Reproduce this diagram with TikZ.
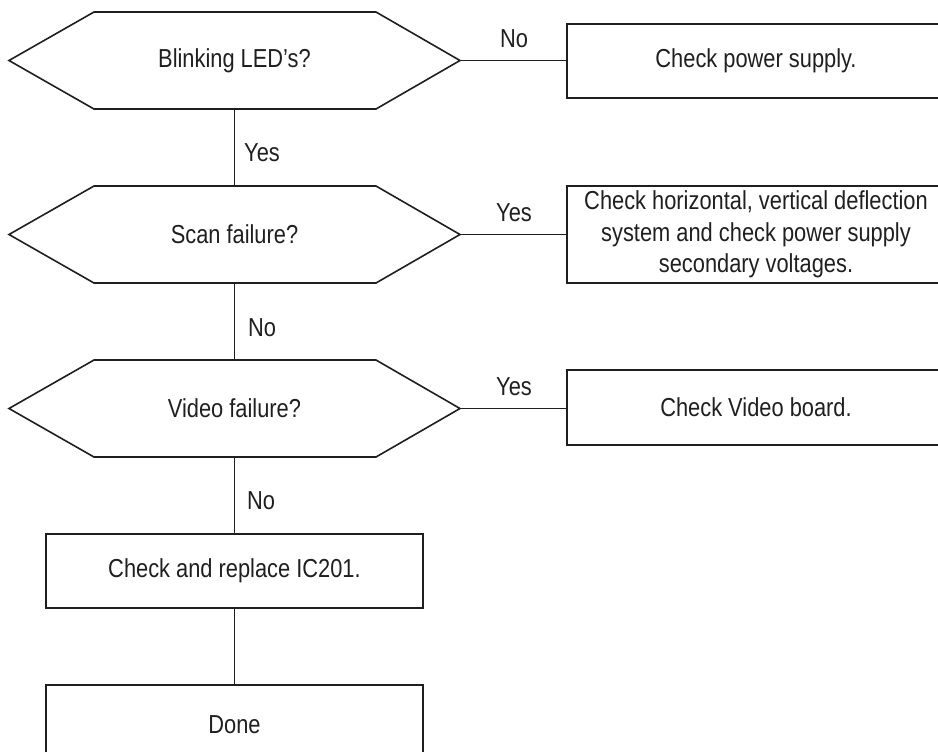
\documentclass[tikz,border=0pt]{standalone}
\usepackage{fontspec}
\setmainfont{Liberation Sans}[FakeStretch=0.84]
\begin{document}
\begin{tikzpicture}[x=0.5pt,y=-0.5pt,
  txt/.style={font=\fontsize{13}{15.75}\selectfont, text=black!88, inner sep=0pt, align=center},
  ln/.style={draw=black!88, line width=0.8pt},
  box/.style={ln, font=\fontsize{13}{15.75}\selectfont, text=black!88, inner sep=0pt, align=center, minimum width=188.5pt},
  lab/.style={txt}]
\useasboundingbox (0,0) rectangle (938,752);
% decision texts
\node[txt] (d1) at (234.5,60.5) {Blinking LED’s?};
\node[txt] (d2) at (234.5,234.5) {Scan failure?};
\node[txt] (d3) at (234.5,408.5) {Video failure?};
% hexagons
\foreach \d in {d1,d2,d3}{
  \draw[ln, line join=miter] (\d.center) ++(-225.5,0) coordinate (\d w) -- ++(85,-48.5) -- ++(282,0) -- ++(84,48.5) coordinate (\d e) -- ++(-84,48.5) -- ++(-282,0) -- cycle;
  \coordinate (\d n) at ([yshift=24.25pt]\d.center);
  \coordinate (\d s) at ([yshift=-24.25pt]\d.center);
}
% right-hand boxes (cut by the right margin)
\node[txt] (b1) at (756,61) {Check power supply.};
\draw[ln] (938,24) -- (567,24) -- (567,98) -- (938,98);
\coordinate (b1w) at (567,60.5);
\node[txt] (b2) at (756,234.5) {Check horizontal, vertical deflection\\system and check power supply\\secondary voltages.};
\draw[ln] (938,186) -- (567,186) -- (567,283) -- (938,283);
\coordinate (b2w) at (567,234.5);
\node[txt] (b3) at (756,407.5) {Check Video board.};
\draw[ln] (938,370) -- (567,370) -- (567,445) -- (938,445);
\coordinate (b3w) at (567,408.5);
% lower boxes (the lower one cut by the bottom margin)
\node[box, minimum height=37pt] (b4) at (234.5,571) {Check and replace IC201.};
\node[txt] (b5) at (234.5,725) {Done};
\draw[ln] (46,752) -- (46,685) -- (423,685) -- (423,752);
\coordinate (b5n) at (234.5,685);
% connectors
\draw[ln] (d1e) -- (b1w);
\draw[ln] (d2e) -- (b2w);
\draw[ln] (d3e) -- (b3w);
\draw[ln] (d1s) -- (d2n);
\draw[ln] (d2s) -- (d3n);
\draw[ln] (d3s) -- (b4.north);
\draw[ln] (b4.south) -- (b5n);
% labels
\node[lab] (l1) at (514,39) {No};
\node[lab] (l2) at (262,153) {Yes};
\node[lab] (l3) at (514,213) {Yes};
\node[lab] (l4) at (262,328) {No};
\node[lab] (l5) at (514,387) {Yes};
\node[lab] (l6) at (261,501) {No};
\end{tikzpicture}
\end{document}
